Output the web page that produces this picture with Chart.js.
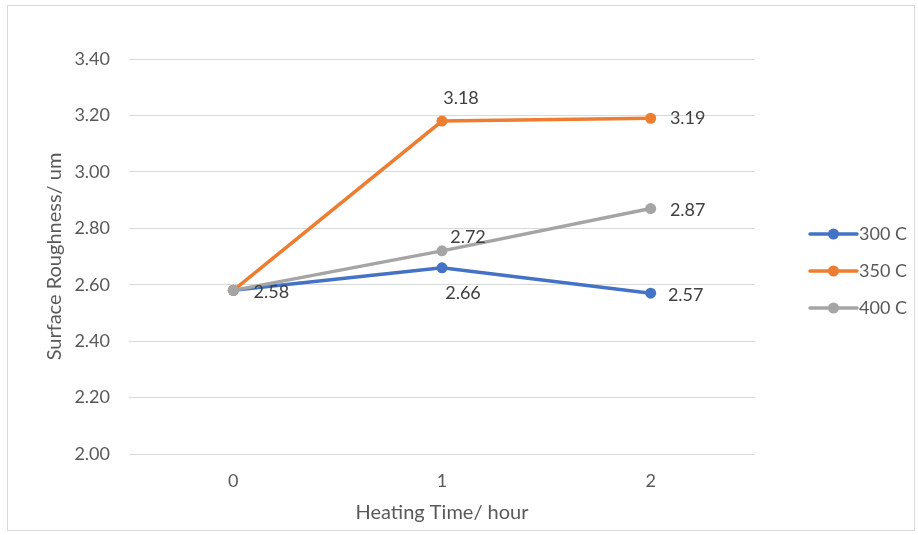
<!DOCTYPE html>
<html>
<head>
<meta charset="utf-8">
<script src="https://cdn.jsdelivr.net/npm/chart.js@4/dist/chart.umd.min.js"></script>
<style>
  html, body { margin: 0; padding: 0; background: #ffffff; }
  #wrap { position: relative; width: 918px; height: 535px; }
</style>
</head>
<body>
<div id="wrap"><canvas id="c" width="918" height="535"></canvas></div>
<script>
// Heating time categories (hours)
const hours = ['0', '1', '2'];

// Surface roughness (um) per heating temperature
const s300 = [2.58, 2.66, 2.57];
const s350 = [2.58, 3.18, 3.19];
const s400 = [2.58, 2.72, 2.87];

const seriesNames = ['300 C', '350 C', '400 C'];

// Y axis tick values
const yTicks = [2.00, 2.20, 2.40, 2.60, 2.80, 3.00, 3.20, 3.40];

const colors = ['#4472C4', '#ED7D31', '#A5A5A5'];
const FONT = 'Lato, "Open Sans", sans-serif';
const TEXT = '#595959';

// Where each value label sits relative to its point (null = no label)
const labelOffsets = [
  [{dx: 38, dy: 2}, {dx: 21, dy: 25}, {dx: 35, dy: 2}],
  [null, {dx: 19, dy: -23}, {dx: 37, dy: 0}],
  [null, {dx: 26, dy: -14}, {dx: 37, dy: 2}]
];

const frame = {
  id: 'frame',
  beforeDraw(chart) {
    const ctx = chart.ctx;
    ctx.save();
    ctx.fillStyle = '#ffffff';
    ctx.fillRect(0, 0, chart.width, chart.height);
    ctx.strokeStyle = '#d9d9d9';
    ctx.lineWidth = 1;
    ctx.strokeRect(7.5, 5.5, 907, 525);
    ctx.restore();
  }
};

const valueLabels = {
  id: 'valueLabels',
  afterDatasetsDraw(chart) {
    const ctx = chart.ctx;
    ctx.save();
    ctx.font = '18px ' + FONT;
    ctx.fillStyle = '#404040';
    ctx.textAlign = 'center';
    ctx.textBaseline = 'middle';
    chart.data.datasets.forEach((ds, i) => {
      const meta = chart.getDatasetMeta(i);
      meta.data.forEach((pt, j) => {
        const off = labelOffsets[i][j];
        if (!off) return;
        ctx.fillText(ds.data[j].toFixed(2), pt.x + off.dx, pt.y + off.dy);
      });
    });
    ctx.restore();
  }
};

const sideLegend = {
  id: 'sideLegend',
  afterDraw(chart) {
    const ctx = chart.ctx;
    ctx.save();
    ctx.font = '18px ' + FONT;
    ctx.textAlign = 'left';
    ctx.textBaseline = 'middle';
    const x0 = 810, x1 = 857, top = 234, gap = 37;
    chart.data.datasets.forEach((ds, i) => {
      const y = top + i * gap;
      ctx.strokeStyle = ds.borderColor;
      ctx.lineWidth = 3.5;
      ctx.lineCap = 'round';
      ctx.beginPath();
      ctx.moveTo(x0, y);
      ctx.lineTo(x1, y);
      ctx.stroke();
      ctx.fillStyle = ds.borderColor;
      ctx.beginPath();
      ctx.arc((x0 + x1) / 2, y, 5.5, 0, Math.PI * 2);
      ctx.fill();
      ctx.fillStyle = TEXT;
      ctx.fillText(ds.label, x1 + 2, y);
    });
    ctx.restore();
  }
};

function makeSeries(label, data, color, order) {
  return {
    label, data,
    borderColor: color,
    backgroundColor: color,
    borderWidth: 3.5,
    pointRadius: 5.5,
    pointHoverRadius: 5.5,
    pointBorderWidth: 0,
    pointBackgroundColor: color,
    tension: 0,
    order
  };
}

new Chart(document.getElementById('c'), {
  type: 'line',
  data: {
    labels: hours,
    datasets: [
      makeSeries(seriesNames[0], s300, colors[0], 3),
      makeSeries(seriesNames[1], s350, colors[1], 2),
      makeSeries(seriesNames[2], s400, colors[2], 1)
    ]
  },
  options: {
    responsive: false,
    animation: false,
    devicePixelRatio: 1,
    layout: { padding: { left: 0, top: 59, right: 163, bottom: 0 } },
    plugins: {
      legend: { display: false },
      tooltip: { enabled: false }
    },
    scales: {
      x: {
        type: 'category',
        offset: true,
        grid: { display: false },
        border: { display: false },
        ticks: { color: TEXT, font: { family: FONT, size: 18 }, padding: 8 },
        title: {
          display: true,
          text: 'Heating Time/ hour',
          color: TEXT,
          font: { family: FONT, size: 20 },
          padding: { top: 0, bottom: 10 }
        },
        afterFit(scale) { scale.height = 81; }
      },
      y: {
        min: yTicks[0],
        max: yTicks[yTicks.length - 1],
        afterBuildTicks(scale) { scale.ticks = yTicks.map(v => ({ value: v })); },
        grid: { color: '#d9d9d9', lineWidth: 1, drawTicks: false },
        border: { display: false },
        ticks: {
          color: TEXT,
          font: { family: FONT, size: 18 },
          padding: 19,
          callback: v => Number(v).toFixed(2)
        },
        title: {
          display: true,
          text: 'Surface Roughness/ um',
          color: TEXT,
          font: { family: FONT, size: 20 },
          padding: { top: 43, bottom: 0 }
        },
        afterFit(scale) { scale.width = 129; }
      }
    }
  },
  plugins: [frame, valueLabels, sideLegend]
});
</script>
</body>
</html>
